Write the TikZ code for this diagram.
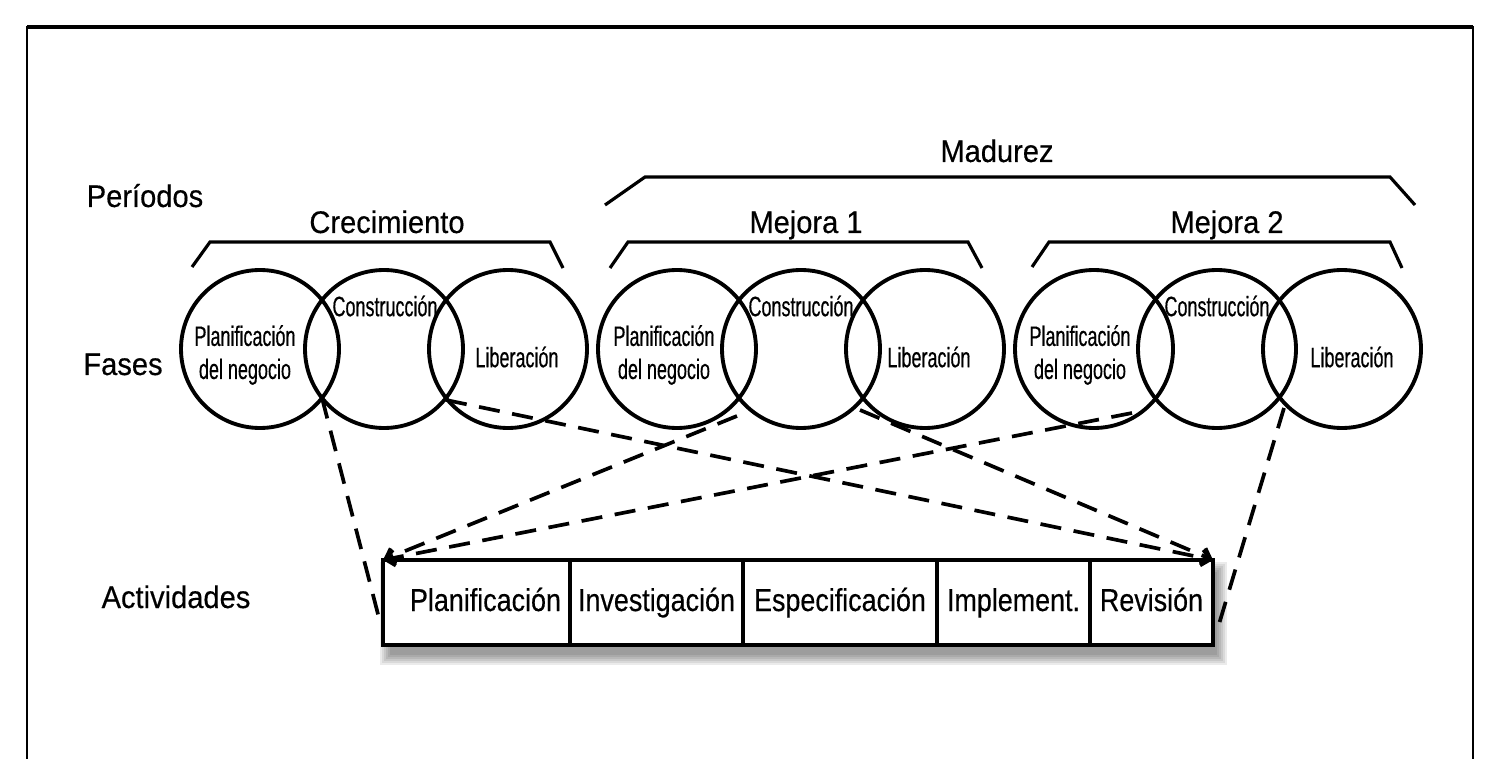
\documentclass[tikz,border=0pt]{standalone}
\usepackage{fontspec}
\setmainfont[FakeStretch = 0.93, FakeBold = 0.4]{Liberation Sans}
\newfontfamily\circfont[FakeStretch = 0.64, FakeBold = 0.4]{Liberation Sans}
\newfontfamily\cellfont[FakeStretch = 0.85, FakeBold = 0.4]{Liberation Sans}
\usetikzlibrary{arrows.meta, positioning, calc, backgrounds}

\begin{document}
\begin{tikzpicture}[x = 0.1mm, y = -0.1mm]
\tikzstyle{Phase}=[
shape = circle,
draw,
line width = 1.1pt,
minimum size = 15.8mm,
inner sep = 0pt]
\tikzstyle{PhaseText}=[font = \circfont\fontsize{8}{9.4}\selectfont, align = center, inner sep = 0pt]
\tikzstyle{Label}=[font = \fontsize{8.9}{10}\selectfont, inner sep = 0pt, anchor = base]
\tikzstyle{Cell}=[draw, line width = 1.2pt, fill = white, minimum height = 8.5mm, inner sep = 0pt, outer sep = 0pt, text height = 2.3mm, text depth = 0.6mm, font = \cellfont\fontsize{9}{10}\selectfont]
\tikzstyle{Brace}=[line width = 0.9pt]
\tikzstyle{Link}=[line width = 1.05pt, dash pattern = on 6pt off 3.6pt]
\tikzstyle{LinkTip}=[Link, -{Straight Barb[length = 2.5pt, width = 4.5pt]}]
\useasboundingbox (0,0) rectangle (1500,759);
\draw[line width = 0.6pt] (27,759) -- (27,27) -- (1473,27) -- (1473,759);
\draw[line width = 1pt] (27,27) -- (1473,27);
\node[Label] (periodos) at (145,207) {Períodos};
\node[Label] (fases) at (123,375) {Fases};
\node[Label] (actividades) at (176,608) {Actividades};
\node[Label] (madurez) at (997,162) {Madurez};
\node[Label] (crecimiento) at (387,233) {Crecimiento};
\node[Label] (mejora1) at (806,233) {Mejora 1};
\node[Label] (mejora2) at (1227,233) {Mejora 2};
\draw[Brace] (605,205) -- (645,177) -- (1390,177) -- (1415,205);
\draw[Brace] (192,267) -- (210,242) -- (550,242) -- (563,268);
\draw[Brace] (610,268) -- (628,242) -- (968,242) -- (982,268);
\draw[Brace] (1032,267) -- (1049,242) -- (1390,242) -- (1402,268);
\node[Phase] (p1) at (260,349) {};
\node[Phase] (b1) at (384,349) {};
\node[Phase] (l1) at (508,349) {};
\node[Phase] (p2) at (677,349) {};
\node[Phase] (b2) at (801,349) {};
\node[Phase] (l2) at (925,349) {};
\node[Phase] (p3) at (1094,349) {};
\node[Phase] (b3) at (1217,349) {};
\node[Phase] (l3) at (1342,349) {};
\node[PhaseText] (tp1) at ($(p1)+(-15,6)$) {Planificación\\del negocio};
\node[PhaseText] (tb1) at ($(b1)+(1,-43)$) {Construcción};
\node[PhaseText] (tl1) at ($(l1)+(9,8)$) {Liberación};
\node[PhaseText] (tp2) at ($(p2)+(-13,6)$) {Planificación\\del negocio};
\node[PhaseText] (tb2) at ($(b2)+(0,-43)$) {Construcción};
\node[PhaseText] (tl2) at ($(l2)+(4,8)$) {Liberación};
\node[PhaseText] (tp3) at ($(p3)+(-14,6)$) {Planificación\\del negocio};
\node[PhaseText] (tb3) at ($(b3)+(0,-43)$) {Construcción};
\node[PhaseText] (tl3) at ($(l3)+(10,8)$) {Liberación};
\node[Cell, minimum width = 18.7mm] (plan) at (476.5,602.5) {\hspace{1.8mm}Planificación};
\node[Cell, minimum width = 17.3mm, right = 0pt of plan] (inve) {Investigación};
\node[Cell, minimum width = 19.4mm, right = 0pt of inve] (espe) {Especificación};
\node[Cell, minimum width = 15.3mm, right = 0pt of espe] (impl) {Implement.};
\node[Cell, minimum width = 12.3mm, right = 0pt of impl] (revi) {Revisión};
\begin{scope}[on background layer]
\foreach \d in {0,2,...,10}
\fill[black, opacity = 0.08] ($(plan.north west)+(7-\d,12-\d)$) rectangle ($(revi.south east)+(4+\d,10+\d)$);
\end{scope}
\coordinate (k1) at (322,398);
\coordinate (k2) at (446,400);
\coordinate (k3) at (737,416);
\coordinate (k4) at (860,410);
\coordinate (k5) at (1132,413);
\coordinate (k6) at (1284,408);
\coordinate (e1) at (379,618);
\coordinate (e2) at (1219,624);
\draw[Link] (k1) -- (e1);
\draw[LinkTip] (k2) -- (revi.north east);
\draw[LinkTip] (k3) -- (plan.north west);
\draw[LinkTip] (k4) -- (revi.north east);
\draw[LinkTip] (k5) -- (plan.north west);
\draw[Link] (k6) -- (e2);
\end{tikzpicture}
\end{document}
